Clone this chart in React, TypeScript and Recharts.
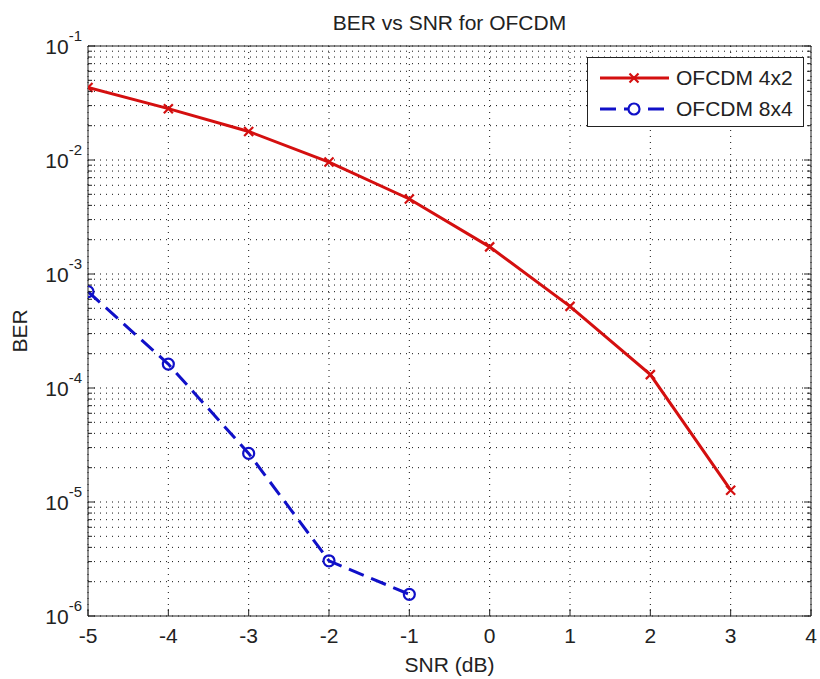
import {
  LineChart,
  Line,
  XAxis,
  YAxis,
  CartesianGrid,
  Legend,
} from 'recharts'

// BER vs SNR values
const snr4x2 = [-5, -4, -3, -2, -1, 0, 1, 2, 3]
const ber4x2 = [0.0433, 0.0282, 0.0178, 0.0096, 0.00455, 0.00173, 0.00052, 0.000131, 0.0000127]
const snr8x4 = [-5, -4, -3, -2, -1]
const ber8x4 = [0.0007, 0.000162, 0.0000267, 0.00000305, 0.00000155]

const xTicks = [-5, -4, -3, -2, -1, 0, 1, 2, 3, 4]
const decades = [1e-6, 1e-5, 1e-4, 1e-3, 1e-2, 1e-1]
const minorSteps = [2, 3, 4, 5, 6, 7, 8, 9]

const yTicks = decades.flatMap((d, i) =>
  i < decades.length - 1 ? [d, ...minorSteps.map((m) => d * m)] : [d]
)

const data4x2 = snr4x2.map((snr, i) => ({ snr, ber: ber4x2[i] }))
const data8x4 = snr8x4.map((snr, i) => ({ snr, ber: ber8x4[i] }))

const FONT = '"Liberation Sans", Arial, Helvetica, sans-serif'
const RED = '#d40f0f'
const BLUE = '#1010c8'

function isDecade(v: number) {
  const l = Math.log10(v)
  return Math.abs(l - Math.round(l)) < 1e-6
}

const LeftYTick = (props: any) => {
  const { x, y, payload } = props
  const major = isDecade(payload.value)
  const len = major ? 7 : 4
  const exp = Math.round(Math.log10(payload.value))
  return (
    <g>
      <line x1={x} x2={x + len} y1={y} y2={y} stroke="#222" />
      {major && (
        <text x={x - 6} y={y + 8} textAnchor="end" fontSize={21} fill="#222" fontFamily={FONT}>
          10
          <tspan dy={-13} fontSize={15}>{`${exp}`}</tspan>
        </text>
      )}
    </g>
  )
}

const RightYTick = (props: any) => {
  const { x, y, payload } = props
  const len = isDecade(payload.value) ? 7 : 4
  return <line x1={x} x2={x - len} y1={y} y2={y} stroke="#222" />
}

const BottomXTick = (props: any) => {
  const { x, y, payload } = props
  return (
    <g>
      <line x1={x} x2={x} y1={y} y2={y - 7} stroke="#222" />
      <text x={x} y={y + 27} textAnchor="middle" fontSize={21} fill="#222" fontFamily={FONT}>
        {payload.value}
      </text>
    </g>
  )
}

const TopXTick = (props: any) => {
  const { x, y } = props
  return <line x1={x} x2={x} y1={y} y2={y + 7} stroke="#222" />
}

const TitleLabel = (props: any) => {
  const { viewBox } = props
  return (
    <text
      x={viewBox.x + viewBox.width / 2}
      y={30}
      textAnchor="middle"
      fontSize={21}
      fill="#222"
      fontFamily={FONT}
    >
      BER vs SNR for OFCDM
    </text>
  )
}

const XLabel = (props: any) => {
  const { viewBox } = props
  return (
    <text
      x={viewBox.x + viewBox.width / 2}
      y={viewBox.y + 56}
      textAnchor="middle"
      fontSize={21}
      fill="#222"
      fontFamily={FONT}
    >
      SNR (dB)
    </text>
  )
}

const YLabel = (props: any) => {
  const { viewBox } = props
  const cx = 27
  const cy = viewBox.y + viewBox.height / 2
  return (
    <text
      x={cx}
      y={cy}
      transform={`rotate(-90 ${cx} ${cy})`}
      textAnchor="middle"
      fontSize={21}
      fill="#222"
      fontFamily={FONT}
    >
      BER
    </text>
  )
}

const CrossDot = (props: any) => {
  const { cx, cy, index } = props
  if (cx == null || cy == null) return <g key={index} />
  const s = 4.5
  return (
    <g key={index}>
      <line x1={cx - s} y1={cy - s} x2={cx + s} y2={cy + s} stroke={RED} strokeWidth={2.2} />
      <line x1={cx - s} y1={cy + s} x2={cx + s} y2={cy - s} stroke={RED} strokeWidth={2.2} />
    </g>
  )
}

const CircleDot = (props: any) => {
  const { cx, cy, index } = props
  if (cx == null || cy == null) return <g key={index} />
  return <circle key={index} cx={cx} cy={cy} r={5.5} fill="none" stroke={BLUE} strokeWidth={2.2} />
}

const legendItems = [
  { name: 'OFCDM 4x2', color: RED, dash: undefined as string | undefined, marker: 'x' },
  { name: 'OFCDM 8x4', color: BLUE, dash: '16 8', marker: 'o' },
]

const LegendBox = () => (
  <div
    style={{
      width: 217,
      height: 70,
      boxSizing: 'border-box',
      border: '1px solid #222',
      background: '#fff',
      fontFamily: FONT,
      fontSize: 21,
      color: '#222',
      paddingTop: 4,
    }}
  >
    {legendItems.map((item) => (
      <div key={item.name} style={{ display: 'flex', alignItems: 'center', height: 31 }}>
        <svg width={86} height={20}>
          <line
            x1={12}
            x2={81}
            y1={10}
            y2={10}
            stroke={item.color}
            strokeWidth={3}
            strokeDasharray={item.dash}
          />
          {item.marker === 'x' ? (
            <g>
              <line x1={41.5} y1={5.5} x2={50.5} y2={14.5} stroke={item.color} strokeWidth={2.2} />
              <line x1={41.5} y1={14.5} x2={50.5} y2={5.5} stroke={item.color} strokeWidth={2.2} />
            </g>
          ) : (
            <circle cx={46} cy={10} r={5.5} fill="#fff" stroke={item.color} strokeWidth={2.2} />
          )}
        </svg>
        <span style={{ marginLeft: 2, lineHeight: '21px' }}>{item.name}</span>
      </div>
    ))}
  </div>
)

export default function App() {
  return (
    <div style={{ position: 'absolute', left: 0, top: 0, background: '#fff' }}>
      <LineChart width={820} height={679} margin={{ top: 0, right: 0, bottom: 0, left: 0 }}>
        <CartesianGrid
          stroke="#111"
          strokeDasharray="1 5"
          horizontalValues={yTicks}
          verticalValues={xTicks}
        />
        <XAxis
          dataKey="snr"
          type="number"
          domain={[-5, 4]}
          ticks={xTicks}
          height={63}
          tickSize={0}
          tickMargin={0}
          tick={<BottomXTick />}
          axisLine={{ stroke: '#222' }}
          allowDataOverflow
          label={<XLabel />}
        />
        <XAxis
          xAxisId="top"
          orientation="top"
          type="number"
          domain={[-5, 4]}
          ticks={xTicks}
          height={46}
          tickSize={0}
          tickMargin={0}
          tick={<TopXTick />}
          axisLine={{ stroke: '#222' }}
          allowDataOverflow
          label={<TitleLabel />}
        />
        <YAxis
          type="number"
          scale="log"
          domain={[1e-6, 1e-1]}
          ticks={yTicks}
          width={88}
          tickSize={0}
          tickMargin={0}
          tick={<LeftYTick />}
          axisLine={{ stroke: '#222' }}
          interval={0}
          allowDataOverflow
          label={<YLabel />}
        />
        <YAxis
          yAxisId="right"
          orientation="right"
          type="number"
          scale="log"
          domain={[1e-6, 1e-1]}
          ticks={yTicks}
          width={9}
          tickSize={0}
          tickMargin={0}
          tick={<RightYTick />}
          axisLine={{ stroke: '#222' }}
          interval={0}
          allowDataOverflow
        />
        <Line
          data={data4x2}
          dataKey="ber"
          name="OFCDM 4x2"
          stroke={RED}
          strokeWidth={3}
          dot={<CrossDot />}
          isAnimationActive={false}
        />
        <Line
          data={data8x4}
          dataKey="ber"
          name="OFCDM 8x4"
          stroke={BLUE}
          strokeWidth={3}
          strokeDasharray="16 8"
          dot={<CircleDot />}
          isAnimationActive={false}
        />
        <Legend
          layout="vertical"
          align="center"
          verticalAlign="middle"
          content={<LegendBox />}
          wrapperStyle={{ left: 587, top: 57, width: 217, height: 70 }}
        />
      </LineChart>
    </div>
  )
}
